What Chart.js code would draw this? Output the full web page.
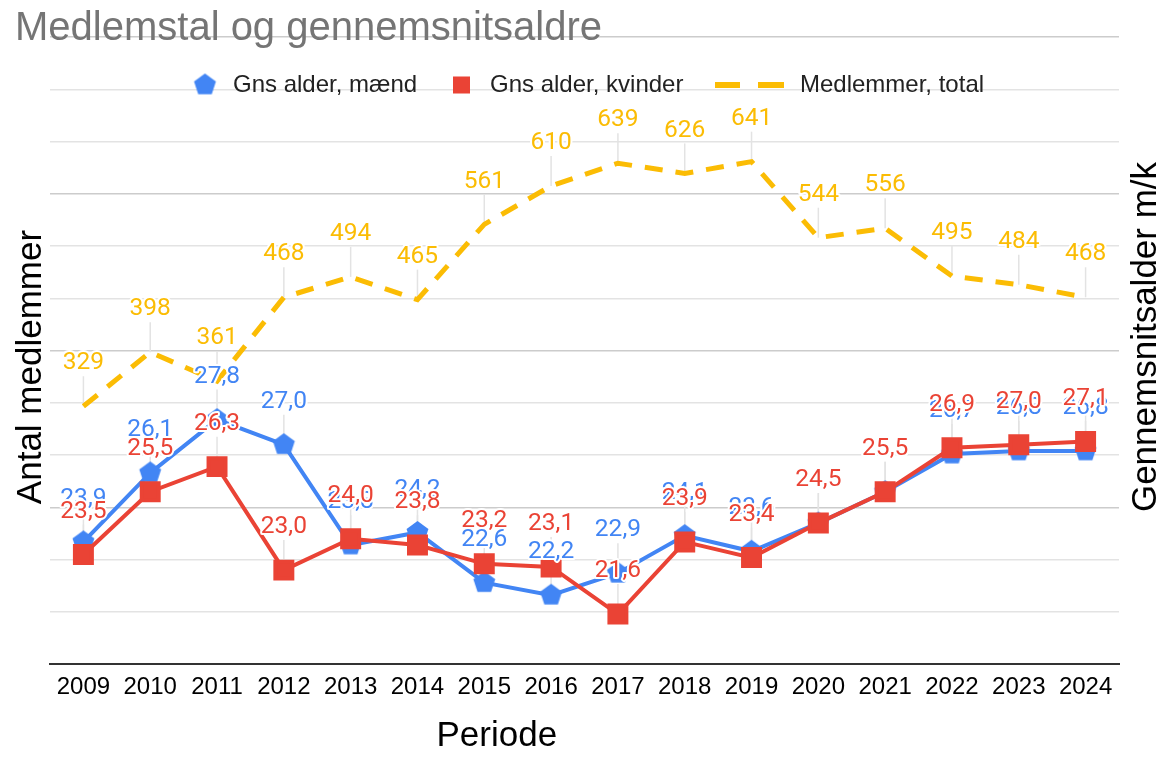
<!DOCTYPE html>
<html>
<head>
<meta charset="utf-8">
<title>Medlemstal og gennemsnitsaldre</title>
<script src="https://cdn.jsdelivr.net/npm/chart.js@4/dist/chart.umd.min.js"></script>
<style>
	body { margin: 0; background: #fff; }
	#wrap { width: 1176px; height: 764px; }
</style>
</head>
<body>
<div id="wrap"><canvas id="memberChart" width="1176" height="764"></canvas></div>
<script>
	// Data.
	var years = ['2009', '2010', '2011', '2012', '2013', '2014', '2015', '2016', '2017', '2018', '2019', '2020', '2021', '2022', '2023', '2024'];
	var menAge = [23.9, 26.1, 27.8, 27.0, 23.8, 24.2, 22.6, 22.2, 22.9, 24.1, 23.6, 24.5, 25.5, 26.7, 26.8, 26.8];
	var womenAge = [23.5, 25.5, 26.3, 23.0, 24.0, 23.8, 23.2, 23.1, 21.6, 23.9, 23.4, 24.5, 25.5, 26.9, 27.0, 27.1];
	var members = [329, 398, 361, 468, 494, 465, 561, 610, 639, 626, 641, 544, 556, 495, 484, 468];

	var BLUE = '#4285F4', RED = '#EA4335', YELLOW = '#FBBC04';
	var SANS = "'Liberation Sans', Arial, sans-serif";

	// pentagon marker, drawn once on a small canvas
	function makePentagon(r, color) {
		var c = document.createElement('canvas');
		var s = Math.ceil(r * 2 + 2);
		c.width = s; c.height = s;
		var g = c.getContext('2d');
		g.fillStyle = color;
		g.beginPath();
		for (var i = 0; i < 5; i++) {
			var a = -Math.PI / 2 + i * 2 * Math.PI / 5;
			var px = s / 2 + r * Math.cos(a), py = s / 2 + r * Math.sin(a);
			if (i === 0) g.moveTo(px, py); else g.lineTo(px, py);
		}
		g.closePath();
		g.fill();
		return c;
	}
	var pentagon = makePentagon(11.5, BLUE);

	function fmt(v, dsIndex) {
		if (dsIndex === 2) return String(v);
		return v.toFixed(1).replace('.', ',');
	}

	// Data labels with leader lines, plus title / legend / axis titles.
	var decorPlugin = {
		id: 'decor',
		beforeDatasetsDraw: function(chart) {
			var ctx = chart.ctx;
			ctx.save();
			ctx.strokeStyle = '#e3e3e3';
			ctx.lineWidth = 1.5;
			chart.data.datasets.forEach(function(ds, di) {
				chart.getDatasetMeta(di).data.forEach(function(pt) {
					ctx.beginPath();
					ctx.moveTo(pt.x, pt.y);
					ctx.lineTo(pt.x, pt.y - 30);
					ctx.stroke();
				});
			});
			ctx.restore();
		},
		afterDatasetsDraw: function(chart) {
			var ctx = chart.ctx;
			ctx.save();
			ctx.font = "24.5px Roboto, sans-serif";
			ctx.textAlign = 'center';
			ctx.textBaseline = 'middle';
			ctx.lineJoin = 'round';
			// members first, then men, then women on top
			[2, 0, 1].forEach(function(di) {
				var ds = chart.data.datasets[di];
				chart.getDatasetMeta(di).data.forEach(function(pt, i) {
					var txt = fmt(ds.data[i], di);
					ctx.strokeStyle = '#fff';
					ctx.lineWidth = 4;
					ctx.strokeText(txt, pt.x, pt.y - 43);
					ctx.fillStyle = ds.borderColor;
					ctx.fillText(txt, pt.x, pt.y - 43);
				});
			});
			ctx.restore();
		},
		afterDraw: function(chart) {
			var ctx = chart.ctx;
			var area = chart.chartArea;
			ctx.save();

			// title
			ctx.font = '40px ' + SANS;
			ctx.fillStyle = '#757575';
			ctx.textAlign = 'left';
			ctx.textBaseline = 'alphabetic';
			ctx.fillText('Medlemstal og gennemsnitsaldre', 15, 40);

			// legend
			var ly = 85;
			ctx.font = '24px ' + SANS;
			ctx.fillStyle = '#222';
			ctx.textBaseline = 'middle';
			ctx.drawImage(pentagon, 205 - pentagon.width / 2, ly - pentagon.height / 2);
			ctx.fillText('Gns alder, mænd', 233, ly);
			ctx.fillStyle = RED;
			ctx.fillRect(453, ly - 8.5, 17, 17);
			ctx.fillStyle = '#222';
			ctx.fillText('Gns alder, kvinder', 490, ly);
			ctx.strokeStyle = YELLOW;
			ctx.lineWidth = 6;
			ctx.beginPath();
			ctx.moveTo(715, ly); ctx.lineTo(740, ly);
			ctx.moveTo(758, ly); ctx.lineTo(784, ly);
			ctx.stroke();
			ctx.fillText('Medlemmer, total', 800, ly);

			// axis titles
			ctx.font = '35px ' + SANS;
			ctx.fillStyle = '#000';
			ctx.textAlign = 'center';
			ctx.fillText('Periode', area.left + area.width * 0.418, 736);

			ctx.save();
			ctx.translate(31, 367);
			ctx.rotate(-Math.PI / 2);
			ctx.fillText('Antal medlemmer', 0, 0);
			ctx.restore();

			ctx.save();
			ctx.translate(1146, 337);
			ctx.rotate(-Math.PI / 2);
			ctx.fillText('Gennemsnitsalder m/k', 0, 0);
			ctx.restore();

			ctx.restore();
		}
	};

	var chart = new Chart(document.getElementById('memberChart'), {
		type: 'line',
		data: {
			labels: years,
			datasets: [{
					label: 'Gns alder, mænd',
					data: menAge,
					yAxisID: 'y1',
					borderColor: BLUE,
					backgroundColor: BLUE,
					borderWidth: 4,
					pointStyle: pentagon,
					order: 2
				}, {
					label: 'Gns alder, kvinder',
					data: womenAge,
					yAxisID: 'y1',
					borderColor: RED,
					backgroundColor: RED,
					borderWidth: 4,
					pointStyle: 'rect',
					pointRadius: 12,
					order: 1
				}, {
					label: 'Medlemmer, total',
					data: members,
					yAxisID: 'y',
					borderColor: YELLOW,
					backgroundColor: YELLOW,
					borderWidth: 5,
					borderDash: [18, 13],
					pointRadius: 0,
					order: 3
				}]
		},
		options: {
			responsive: false,
			animation: false,
			devicePixelRatio: 1,
			layout: { padding: { left: 50, right: 57, top: 37, bottom: 53 } },
			plugins: {
				legend: { display: false },
				title: { display: false },
				tooltip: { enabled: false }
			},
			scales: {
				x: {
					offset: true,
					grid: { display: false, drawTicks: false },
					border: { display: true, color: '#333', width: 2 },
					ticks: {
						color: '#000',
						font: { family: SANS, size: 24 },
						padding: 9,
						maxRotation: 0,
						autoSkip: false
					}
				},
				y: {
					position: 'left',
					min: 0,
					max: 800,
					border: { display: false },
					grid: {
						drawTicks: false,
						lineWidth: 1.5,
						color: function(c) { return c.index % 3 === 0 ? '#cccccc' : '#e3e3e3'; }
					},
					ticks: { display: false, count: 13 }
				},
				y1: {
					display: false,
					position: 'right',
					min: 20,
					max: 40
				}
			}
		},
		plugins: [decorPlugin]
	});
</script>
</body>
</html>
